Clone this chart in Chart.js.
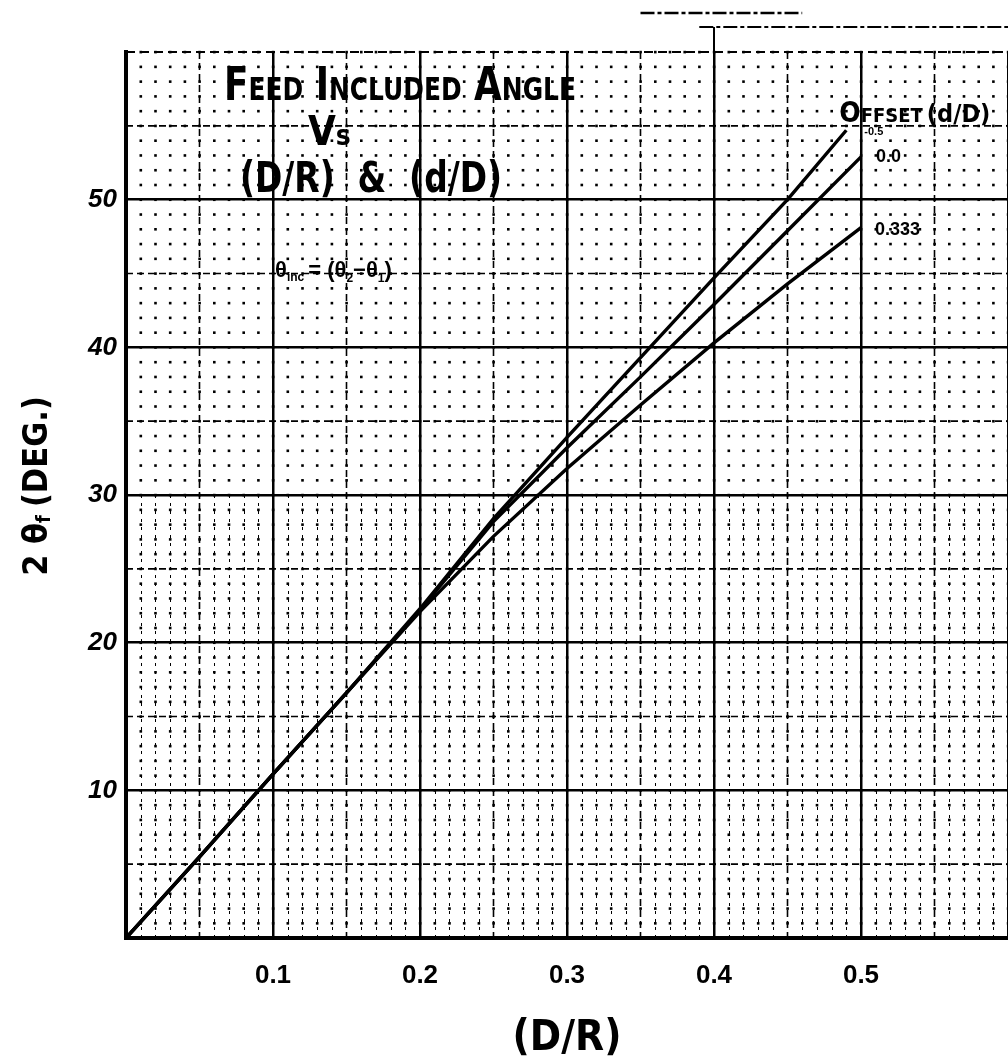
<!DOCTYPE html>
<html>
<head>
<meta charset="utf-8">
<script src="https://cdn.jsdelivr.net/npm/chart.js"></script>
<style>
html, body { margin: 0; padding: 0; background: #fff; overflow: hidden; }
</style>
</head>
<body>
<canvas id="visualization" width="1008" height="1064"></canvas>
<script>
const ratioNeg = [0, 0.05, 0.1, 0.15, 0.2, 0.25, 0.3, 0.35, 0.4, 0.45, 0.49];
const ratio = [0, 0.05, 0.1, 0.15, 0.2, 0.25, 0.3, 0.35, 0.4, 0.45, 0.5];

// included angle 2θf in degrees, one list per offset d/D
const angleNeg = [0, 5.5, 11.1, 16.6, 22.3, 28.4, 33.9, 39.3, 44.7, 50.0, 54.7];
const angleZero = [0, 5.5, 11.1, 16.6, 22.2, 28.2, 33.2, 38.0, 42.9, 47.9, 52.9];
const angleThird = [0, 5.5, 11.1, 16.6, 22.1, 27.2, 31.8, 36.1, 40.3, 44.3, 48.1];

const offsetNames = ['-0.5', '0.0', '0.333'];

const FONT = "'Liberation Sans', 'DejaVu Sans', sans-serif";
const NARROW = "'Liberation Sans Narrow', 'DejaVu Sans Condensed', 'Liberation Sans', sans-serif";

function pts(xs, ys) {
    return xs.map((v, i) => ({x: v, y: ys[i]}));
}

// write a run of text pieces one after another, some dropped as subscripts
function runs(ctx, list, x, y) {
    list.forEach((r) => {
        ctx.font = r.font;
        ctx.fillText(r.text, x, y + (r.dy || 0));
        x += ctx.measureText(r.text).width + (r.gap || 0);
    });
    return x;
}

// graph paper: dots every 0.01 / 1 deg, dashed half lines, dotted columns low down
const paper = {
    id: 'paper',
    beforeDatasetsDraw(chart) {
        const {ctx, chartArea: a, scales: {x, y}} = chart;
        ctx.save();
        ctx.fillStyle = '#000';
        ctx.strokeStyle = '#000';

        // dotted verticals in the lower part of the sheet
        ctx.lineWidth = 1;
        ctx.setLineDash([3, 5]);
        for (let i = 1; i < 60; i++) {
            if (i % 5 == 0) continue;
            const px = Math.round(x.getPixelForValue(i / 100)) + 0.5;
            ctx.beginPath();
            ctx.moveTo(px, y.getPixelForValue(30));
            ctx.lineTo(px, a.bottom);
            ctx.stroke();
        }

        // dots
        for (let i = 0; i <= 60; i++) {
            const px = x.getPixelForValue(i / 100);
            for (let j = 0; j <= 60; j++) {
                const py = y.getPixelForValue(j);
                ctx.fillRect(px - 1.2, py - 1.2, 2.6, 2.6);
            }
        }

        // half-division lines
        ctx.lineWidth = 1.6;
        ctx.setLineDash([7, 4]);
        for (let i = 5; i < 60; i += 10) {
            const px = x.getPixelForValue(i / 100);
            ctx.beginPath();
            ctx.moveTo(px, a.top);
            ctx.lineTo(px, a.bottom);
            ctx.stroke();
            const py = y.getPixelForValue(i);
            ctx.beginPath();
            ctx.moveTo(a.left, py);
            ctx.lineTo(a.right, py);
            ctx.stroke();
        }

        // top edge of the sheet, plus the torn strip above it
        ctx.lineWidth = 2;
        ctx.setLineDash([9, 5]);
        ctx.beginPath();
        ctx.moveTo(a.left, a.top);
        ctx.lineTo(a.right, a.top);
        ctx.stroke();
        ctx.setLineDash([14, 3, 4, 3]);
        ctx.beginPath();
        ctx.moveTo(x.getPixelForValue(0.39), a.top - 25);
        ctx.lineTo(a.right, a.top - 25);
        ctx.stroke();
        ctx.lineWidth = 2.5;
        ctx.beginPath();
        ctx.moveTo(x.getPixelForValue(0.35), a.top - 39);
        ctx.lineTo(x.getPixelForValue(0.46), a.top - 39);
        ctx.stroke();
        ctx.setLineDash([]);
        ctx.lineWidth = 2;
        ctx.beginPath();
        ctx.moveTo(x.getPixelForValue(0.4), a.top);
        ctx.lineTo(x.getPixelForValue(0.4), a.top - 25);
        ctx.stroke();
        ctx.restore();
    }
};

// lettering: heading, note, curve labels, y axis title
const lettering = {
    id: 'lettering',
    afterDatasetsDraw(chart) {
        const {ctx, chartArea: a, scales: {x, y}} = chart;
        ctx.save();
        ctx.fillStyle = '#000';
        ctx.textAlign = 'left';
        ctx.textBaseline = 'alphabetic';

        ctx.font = 'small-caps bold 46px ' + NARROW;
        ctx.fillText('Feed Included Angle', 224, 100, 352);

        runs(ctx, [
            {text: 'V', font: 'bold 40px ' + NARROW},
            {text: 's', font: 'bold 28px ' + NARROW}
        ], 308, 145);

        ctx.font = 'bold 42px ' + NARROW;
        ctx.fillText('(D/R)  &  (d/D)', 240, 192, 262);

        runs(ctx, [
            {text: 'θ', font: 'bold 22px ' + FONT},
            {text: 'inc', font: 'bold 12px ' + FONT, dy: 4, gap: 4},
            {text: '= (θ', font: 'bold 22px ' + FONT},
            {text: '2', font: 'bold 12px ' + FONT, dy: 5},
            {text: '−θ', font: 'bold 22px ' + FONT},
            {text: '1', font: 'bold 12px ' + FONT, dy: 5},
            {text: ')', font: 'bold 22px ' + FONT}
        ], 275, 277);

        // curve labels at the end of each line
        const ends = chart.data.datasets.map((ds) => {
            const p = ds.data[ds.data.length - 1];
            return {px: x.getPixelForValue(p.x), py: y.getPixelForValue(p.y)};
        });
        runs(ctx, [
            {text: 'Offset', font: 'small-caps bold 28px ' + NARROW, gap: 4},
            {text: '(d/D)', font: 'bold 25px ' + NARROW}
        ], ends[0].px - 7, ends[0].py - 8);
        ctx.font = 'bold 11px ' + FONT;
        ctx.fillText(offsetNames[0], ends[0].px + 18, ends[0].py + 5);
        ctx.font = 'bold 18px ' + FONT;
        ctx.textBaseline = 'middle';
        ctx.fillText(offsetNames[1], ends[1].px + 15, ends[1].py);
        ctx.fillText(offsetNames[2], ends[2].px + 14, ends[2].py + 2);

        // y axis title, rotated
        ctx.translate(38, 486);
        ctx.rotate(-Math.PI / 2);
        ctx.textBaseline = 'middle';
        const parts = [
            {text: '2 θ', font: 'bold 34px ' + NARROW},
            {text: 'f', font: 'bold 20px ' + NARROW, dy: 7, gap: 8},
            {text: '(DEG.)', font: 'bold 34px ' + NARROW}
        ];
        let w = 0;
        parts.forEach((r) => { ctx.font = r.font; w += ctx.measureText(r.text).width + (r.gap || 0); });
        runs(ctx, parts, -w / 2, 0);
        ctx.restore();
    }
};

const data = {
    datasets: [
        {label: offsetNames[0], data: pts(ratioNeg, angleNeg)},
        {label: offsetNames[1], data: pts(ratio, angleZero)},
        {label: offsetNames[2], data: pts(ratio, angleThird)},
    ].map((ds) => Object.assign(ds, {
        borderColor: '#000',
        backgroundColor: '#000',
        borderWidth: 3.4,
        pointRadius: 0,
        tension: 0,
    }))
};

const config = {
    type: 'line',
    data: data,
    options: {
        responsive: false,
        animation: false,
        devicePixelRatio: 1,
        layout: {padding: {top: 52, left: 0, right: 0, bottom: 0}},
        plugins: {
            legend: {display: false},
            tooltip: {enabled: false},
        },
        scales: {
            x: {
                type: 'linear',
                min: 0,
                max: 0.6,
                afterFit: (s) => {
                    s.height = 126;
                    s.paddingLeft = 0;
                    s.paddingRight = 0;
                },
                ticks: {
                    stepSize: 0.1,
                    padding: 22,
                    color: '#000',
                    maxRotation: 0,
                    autoSkip: false,
                    font: {family: FONT, size: 26, weight: 'bold'},
                    callback: (v) => (v > 0.01 && v < 0.59) ? v.toFixed(1) : '',
                },
                grid: {
                    color: '#000',
                    drawTicks: false,
                    lineWidth: (c) => (c.tick && c.tick.value > 0.01) ? 2.5 : 0,
                },
                border: {color: '#000', width: 4},
                title: {
                    display: true,
                    text: '(D/R)',
                    color: '#000',
                    font: {family: NARROW, size: 42, weight: 'bold'},
                    padding: {top: 8, bottom: 0},
                },
            },
            y: {
                min: 0,
                max: 60,
                afterFit: (s) => {
                    s.width = 126;
                    s.paddingTop = 0;
                    s.paddingBottom = 0;
                },
                ticks: {
                    stepSize: 10,
                    padding: 9,
                    color: '#000',
                    font: {family: FONT, size: 26, weight: 'bold', style: 'italic'},
                    callback: (v) => (v > 0 && v < 60) ? v : '',
                },
                grid: {
                    color: '#000',
                    drawTicks: false,
                    lineWidth: (c) => (c.tick && c.tick.value > 0 && c.tick.value < 60) ? 2.5 : 0,
                },
                border: {color: '#000', width: 4},
            }
        }
    },
    plugins: [paper, lettering]
};

const myChart = new Chart(document.getElementById('visualization'), config);
</script>
</body>
</html>
